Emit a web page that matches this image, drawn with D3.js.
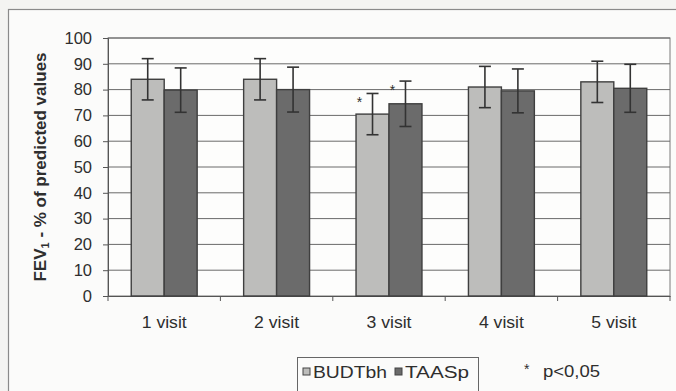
<!DOCTYPE html>
<html><head><meta charset="utf-8">
<script src="https://cdn.jsdelivr.net/npm/d3@7"></script>
<style>
html,body{margin:0;padding:0;background:#f4f4f2;}
svg{display:block;font-family:"Liberation Sans",Arial,sans-serif;}
</style></head>
<body><svg id="c" width="676" height="391"></svg>
<script>
const categories = ["1 visit","2 visit","3 visit","4 visit","5 visit"];
const seriesNames = ["BUDTbh","TAASp"];
const budtbhMean = [84, 84, 70.5, 81, 83];
const budtbhErr  = [8, 8, 8, 8, 8];
const taaspMean  = [79.8, 80, 74.5, 79.5, 80.5];
const taaspErr   = [8.6, 8.7, 8.8, 8.5, 9.3];
const significant = [[false,false],[false,false],[true,true],[false,false],[false,false]];
const yTicks = [0,10,20,30,40,50,60,70,80,90,100];

const svg = d3.select("#c");
const W = 676, H = 391;
const m = {left:108, right:6, top:38, bottom:95};
const x0 = d3.scaleBand().domain(categories).range([m.left, W - m.right]).paddingInner(0).paddingOuter(0);
const x1 = d3.scaleBand().domain(seriesNames).range([0, x0.bandwidth()]).paddingInner(0).paddingOuter(0.705);
const y = d3.scaleLinear().domain([0,100]).range([H - m.bottom, m.top]);
const txt = "#2e2e2e";

// outer chart border
svg.append("rect").attr("x",8.5).attr("y",9.5).attr("width",W+10).attr("height",H+10)
  .attr("fill","#fbfbfa").attr("stroke","#8a8a8a").attr("stroke-width",1.2);

// plot area
svg.append("rect").attr("x",m.left).attr("y",y(100)).attr("width",x0.range()[1]-m.left).attr("height",y(0)-y(100))
  .attr("fill","#fdfdfc").attr("stroke","#7a7a7a");

// gridlines
svg.append("g").selectAll("line").data(yTicks.filter(d=>d>0)).join("line")
  .attr("x1",m.left).attr("x2",x0.range()[1]).attr("y1",d=>y(d)).attr("y2",d=>y(d))
  .attr("stroke","#6a6a6a").attr("stroke-width",1);

// y axis
const ya = svg.append("g").attr("transform",`translate(${m.left},0)`)
  .call(d3.axisLeft(y).tickValues(yTicks).tickSize(5).tickPadding(11));
ya.select(".domain").attr("stroke","#555");
ya.selectAll(".tick line").attr("stroke","#555");
ya.selectAll("text").attr("font-size",16.5).attr("fill",txt).attr("font-family","Liberation Sans, Arial, sans-serif");

// x axis
const xa = svg.append("g").attr("transform",`translate(0,${y(0)})`)
  .call(d3.axisBottom(x0).tickSize(0).tickPadding(21));
xa.select(".domain").attr("stroke","#555");
xa.selectAll("text").attr("font-size",16).attr("fill",txt).attr("font-family","Liberation Sans, Arial, sans-serif")
  .attr("textLength",45).attr("lengthAdjust","spacingAndGlyphs");
// tick marks at category boundaries
const bounds = categories.map(c=>x0(c)).concat([x0.range()[1]]);
svg.append("g").selectAll("line").data(bounds).join("line")
  .attr("x1",d=>d).attr("x2",d=>d).attr("y1",y(0)).attr("y2",y(0)+5).attr("stroke","#555");

const colors = {BUDTbh:"#bdbdbb", TAASp:"#6b6b6b"};
const data = categories.map((c,i)=>({c, vals:[
  {s:"BUDTbh", v:budtbhMean[i], e:budtbhErr[i], sig:significant[i][0]},
  {s:"TAASp", v:taaspMean[i], e:taaspErr[i], sig:significant[i][1]}]}));

const g = svg.append("g").selectAll("g").data(data).join("g")
  .attr("transform",d=>`translate(${x0(d.c)},0)`);
g.selectAll("rect").data(d=>d.vals).join("rect")
  .attr("x",d=>x1(d.s)).attr("width",x1.bandwidth())
  .attr("y",d=>y(d.v)).attr("height",d=>y(0)-y(d.v))
  .attr("fill",d=>colors[d.s]).attr("stroke","#3f3f3f").attr("stroke-width",1.4);

// error bars
const eb = g.selectAll("g.eb").data(d=>d.vals).join("g").attr("class","eb");
eb.append("line").attr("x1",d=>x1(d.s)+x1.bandwidth()/2).attr("x2",d=>x1(d.s)+x1.bandwidth()/2)
  .attr("y1",d=>y(d.v+d.e)).attr("y2",d=>y(d.v-d.e)).attr("stroke","#333").attr("stroke-width",1.6);
eb.append("line").attr("x1",d=>x1(d.s)+x1.bandwidth()/2-6).attr("x2",d=>x1(d.s)+x1.bandwidth()/2+6)
  .attr("y1",d=>y(d.v+d.e)).attr("y2",d=>y(d.v+d.e)).attr("stroke","#333").attr("stroke-width",1.6);
eb.append("line").attr("x1",d=>x1(d.s)+x1.bandwidth()/2-6).attr("x2",d=>x1(d.s)+x1.bandwidth()/2+6)
  .attr("y1",d=>y(d.v-d.e)).attr("y2",d=>y(d.v-d.e)).attr("stroke","#333").attr("stroke-width",1.6);
// significance stars
g.selectAll("text.star").data(d=>d.vals.filter(v=>v.sig)).join("text").attr("class","star")
  .attr("x",d=>x1(d.s)+x1.bandwidth()/2-13).attr("y",d=>y(d.v+d.e)+14)
  .attr("font-size",14).attr("fill",txt).attr("text-anchor","middle").text("*");

// y label
const yl = svg.append("text").attr("transform","translate(46,167) rotate(-90)")
  .attr("text-anchor","middle").attr("font-size",17).attr("font-weight","bold").attr("fill",txt);
yl.append("tspan").text("FEV");
yl.append("tspan").attr("font-size",11).attr("dy",3).text("1");
yl.append("tspan").attr("dy",-3).text(" - % of predicted values");

// legend
const lg = svg.append("g");
lg.append("rect").attr("x",297.5).attr("y",357.5).attr("width",181).attr("height",40)
  .attr("fill","#fbfbfa").attr("stroke","#666");
const items = [{s:"BUDTbh",x:303,w:74},{s:"TAASp",x:395,w:64}];
items.forEach(it=>{
  lg.append("rect").attr("x",it.x).attr("y",368).attr("width",7).attr("height",7)
    .attr("fill",colors[it.s]).attr("stroke","#444");
  lg.append("text").attr("x",it.x+10).attr("y",378).attr("font-size",16).attr("fill",txt)
    .attr("textLength",it.w).attr("lengthAdjust","spacingAndGlyphs").text(it.s);
});
svg.append("text").attr("x",524).attr("y",374).attr("font-size",14).attr("fill",txt).text("*");
svg.append("text").attr("x",543).attr("y",377).attr("font-size",16).attr("fill",txt)
  .attr("textLength",57).attr("lengthAdjust","spacingAndGlyphs").text("p<0,05");
</script></body></html>
